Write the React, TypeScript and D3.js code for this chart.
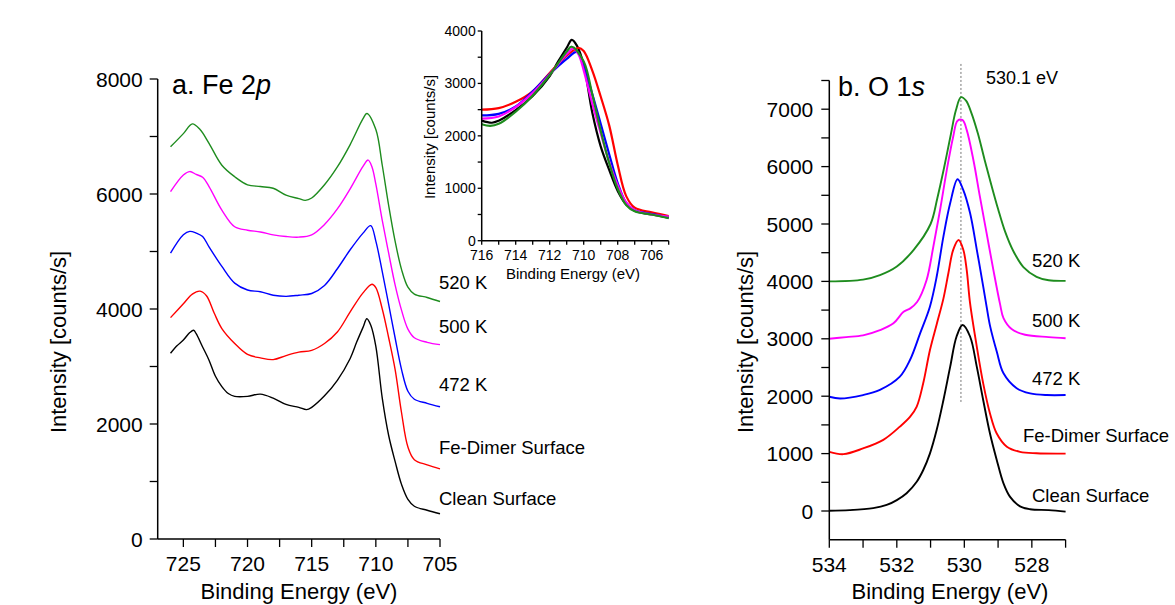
import React from 'react';
import * as d3 from 'd3';

type Pt = [number, number];

// ---------- Fe 2p spectra (counts/s, before vertical offset) ----------
const FE_CLEAN: Pt[] = [
  [726, 3230], [725.5, 3360], [725, 3460], [724.5, 3590], [724.2, 3630], [724, 3570],
  [723.5, 3340], [723, 3110], [722.5, 2830], [722, 2650], [721.5, 2530], [721, 2480],
  [720, 2480], [719, 2520], [718, 2450], [717, 2340], [716, 2290], [715.4, 2250],
  [715, 2290], [714, 2490], [713, 2760], [712, 3140], [711.5, 3420], [711, 3680],
  [710.7, 3830], [710.4, 3720], [710, 3350], [709.5, 2450], [709, 1800], [708.5, 1350],
  [708, 950], [707.5, 690], [707, 570], [706, 500], [705, 440],
];
const FE_DIMER: Pt[] = [
  [726, 3100], [725, 3340], [724.3, 3510], [723.7, 3560], [723.2, 3480], [722.6, 3180],
  [722, 2910], [721, 2650], [720, 2460], [719, 2400], [718, 2370], [717, 2440],
  [716, 2500], [715, 2530], [714, 2650], [713, 2850], [712, 3200], [711, 3530],
  [710.3, 3680], [710, 3620], [709.5, 3250], [709, 2750], [708.5, 2200], [708, 1450],
  [707.5, 850], [707, 630], [706, 540], [705, 470],
];
const FE_472K: Pt[] = [
  [726, 3120], [725, 3440], [724.5, 3500], [724, 3470], [723.5, 3410], [723, 3230],
  [722, 2890], [721, 2600], [720, 2480], [719, 2450], [718, 2390], [717, 2370],
  [716, 2390], [715, 2420], [714, 2560], [713, 2850], [712, 3180], [711, 3470],
  [710.4, 3600], [710, 3330], [709.5, 2800], [709, 2230], [708.5, 1650], [708, 1100],
  [707.5, 720], [707, 580], [706, 510], [705, 450],
];
const FE_500K: Pt[] = [
  [726, 3120], [725, 3410], [724.5, 3470], [724, 3420], [723.5, 3370], [723, 3210],
  [722, 2800], [721, 2510], [720, 2450], [719, 2420], [718, 2370], [717, 2340],
  [716, 2330], [715, 2370], [714, 2550], [713, 2820], [712, 3170], [711, 3560],
  [710.6, 3670], [710.3, 3550], [710, 3250], [709.5, 2620], [709, 2050], [708.5, 1500],
  [708, 1060], [707.5, 730], [707, 580], [706, 500], [705, 460],
];
const FE_520K: Pt[] = [
  [726, 3120], [725, 3350], [724.3, 3520], [723.7, 3420], [723, 3180], [722, 2800],
  [721, 2600], [720, 2460], [719, 2430], [718, 2400], [717, 2280], [716, 2220],
  [715.5, 2190], [715, 2230], [714, 2460], [713, 2770], [712, 3160], [711, 3610],
  [710.7, 3700], [710, 3420], [709.5, 2800], [709, 2100], [708.5, 1480], [708, 990],
  [707.5, 680], [707, 560], [706, 500], [705, 430],
];
// vertical offsets used to stack the Fe 2p spectra
const FE_OFFSETS = [0, 750, 1850, 2920, 3700];

// ---------- O 1s spectra (counts/s, stacked) ----------
const O_CLEAN: Pt[] = [
  [534, 5], [533.4, 15], [532.7, 50], [532.3, 105], [532, 190], [531.71, 310],
  [531.41, 510], [531.22, 710], [531.02, 1000], [530.82, 1410], [530.62, 1930],
  [530.42, 2510], [530.23, 3040], [530.05, 3240], [529.83, 3040], [529.63, 2510],
  [529.44, 1930], [529.24, 1350], [529.04, 890], [528.84, 480], [528.65, 250],
  [528.35, 80], [528.05, 30], [527.5, 15], [527, -10],
];
const O_DIMER: Pt[] = [
  [534, 1030], [533.58, 990], [533, 1090], [532.4, 1240], [531.91, 1470], [531.61, 1640],
  [531.41, 1820], [531.22, 2220], [531.02, 2800], [530.82, 3250], [530.62, 3700],
  [530.47, 4150], [530.33, 4550], [530.17, 4720], [530.03, 4550], [529.93, 4200],
  [529.83, 3620], [529.63, 2860], [529.44, 2220], [529.24, 1700], [529.04, 1350],
  [528.74, 1120], [528.35, 1030], [527.86, 1005], [527, 1000],
];
const O_472K: Pt[] = [
  [534, 1990], [533.68, 1960], [533, 2020], [532.5, 2110], [531.91, 2340], [531.61, 2630],
  [531.31, 3095], [531.02, 3560], [530.82, 4080], [530.62, 4780], [530.42, 5360],
  [530.2, 5780], [530.03, 5590], [529.83, 5190], [529.63, 4550], [529.44, 3910],
  [529.34, 3560], [529.24, 3230], [529.04, 2780], [528.84, 2400], [528.45, 2140],
  [528.05, 2050], [527.56, 2020], [527, 2020],
];
const O_500K: Pt[] = [
  [534, 3000], [533.5, 3030], [533, 3060], [532.5, 3150], [532.1, 3270], [531.8, 3470],
  [531.6, 3530], [531.4, 3640], [531.12, 4020], [530.92, 4600], [530.72, 5240],
  [530.52, 5940], [530.33, 6520], [530.2, 6800], [530.05, 6810], [529.93, 6640],
  [529.73, 6110], [529.54, 5480], [529.34, 4840], [529.14, 4200], [528.94, 3600],
  [528.84, 3360], [528.6, 3170], [528.2, 3070], [527.5, 3030], [527, 3010],
];
const O_520K: Pt[] = [
  [534, 4000], [533, 4030], [532.5, 4110], [532, 4260], [531.5, 4550], [531, 5000],
  [530.8, 5450], [530.6, 5980], [530.4, 6560], [530.25, 6980], [530.1, 7210],
  [529.95, 7150], [529.8, 6950], [529.6, 6580], [529.4, 6120], [529.2, 5680],
  [529, 5260], [528.8, 4880], [528.55, 4530], [528.25, 4250], [527.86, 4080],
  [527.5, 4020], [527, 4010],
];
const O_PEAK_EV = 530.1;
const O_PEAK_LINE_RANGE = [1900, 7800];

const SERIES_LABELS = ['Clean Surface', 'Fe-Dimer Surface', '472 K', '500 K', '520 K'];
const SERIES_COLORS = ['#000000', '#ff0000', '#0000ff', '#ff00ff', '#1e8c1e'];

// ---------- axis ticks ----------
const FE_X_TICKS = [725, 720, 715, 710, 705];
const FE_X_MINOR = [722.5, 717.5, 712.5, 707.5];
const FE_Y_TICKS = [0, 2000, 4000, 6000, 8000];
const FE_Y_MINOR = [1000, 3000, 5000, 7000];
const INSET_X_TICKS = [716, 714, 712, 710, 708, 706];
const INSET_X_MINOR = [715, 713, 711, 709, 707, 705];
const INSET_Y_TICKS = [0, 1000, 2000, 3000, 4000];
const INSET_Y_MINOR = [500, 1500, 2500, 3500];
const O_X_TICKS = [534, 532, 530, 528];
const O_X_MINOR = [533, 531, 529, 527];
const O_Y_TICKS = [0, 1000, 2000, 3000, 4000, 5000, 6000, 7000];
const O_Y_MINOR = [500, 1500, 2500, 3500, 4500, 5500, 6500, 7500];

const FONT = "'Liberation Sans', Arial, Helvetica, sans-serif";

type Scale = d3.ScaleLinear<number, number>;

function XAxis({ x, y0, ticks, minor, len, mlen, size, gap }: {
  x: Scale; y0: number; ticks: number[]; minor: number[]; len: number; mlen: number; size: number; gap: number;
}) {
  const [r0, r1] = x.range();
  return (
    <g>
      <line x1={r0} x2={r1} y1={y0} y2={y0} stroke="#000" strokeWidth={1.5} />
      {ticks.map((t) => (
        <g key={'M' + t}>
          <line x1={x(t)} x2={x(t)} y1={y0} y2={y0 + len} stroke="#000" strokeWidth={1.3} />
          <text x={x(t)} y={y0 + len + gap} fontSize={size} textAnchor="middle" dominantBaseline="hanging">{t}</text>
        </g>
      ))}
      {minor.map((t) => (
        <line key={'m' + t} x1={x(t)} x2={x(t)} y1={y0} y2={y0 + mlen} stroke="#000" strokeWidth={1.3} />
      ))}
    </g>
  );
}

function YAxis({ y, x0, ticks, minor, len, mlen, size, gap }: {
  y: Scale; x0: number; ticks: number[]; minor: number[]; len: number; mlen: number; size: number; gap: number;
}) {
  const [r0, r1] = y.range();
  return (
    <g>
      <line x1={x0} x2={x0} y1={r0} y2={r1} stroke="#000" strokeWidth={1.5} />
      {ticks.map((t) => (
        <g key={'M' + t}>
          <line x1={x0 - len} x2={x0} y1={y(t)} y2={y(t)} stroke="#000" strokeWidth={1.3} />
          <text x={x0 - len - gap} y={y(t)} fontSize={size} textAnchor="end" dominantBaseline="central">{t}</text>
        </g>
      ))}
      {minor.map((t) => (
        <line key={'m' + t} x1={x0 - mlen} x2={x0} y1={y(t)} y2={y(t)} stroke="#000" strokeWidth={1.3} />
      ))}
    </g>
  );
}

export default function App() {
  const feSeries = [FE_CLEAN, FE_DIMER, FE_472K, FE_500K, FE_520K];
  const oSeries = [O_CLEAN, O_DIMER, O_472K, O_500K, O_520K];

  // Panel a: Fe 2p
  const xA = d3.scaleLinear().domain([727, 705]).range([157.7, 440]);
  const yA = d3.scaleLinear().domain([0, 8000]).range([539, 79]);
  // Inset: overlaid Fe 2p (no offsets)
  const xI = d3.scaleLinear().domain([716, 705]).range([481.7, 668.7]);
  const yI = d3.scaleLinear().domain([0, 4000]).range([240.7, 31]);
  // Panel b: O 1s
  const xB = d3.scaleLinear().domain([534, 527]).range([829.3, 1065.6]);
  const yB = d3.scaleLinear().domain([-500, 7500]).range([539.7, 80.5]);

  const smooth = d3.curveCatmullRom.alpha(0.5);
  const lineA = (off: number) =>
    d3.line<Pt>().x((d) => xA(d[0])).y((d) => yA(d[1] + off)).curve(smooth);
  const lineI = d3.line<Pt>().x((d) => xI(d[0])).y((d) => yI(d[1])).curve(smooth);
  const lineB = d3.line<Pt>().x((d) => xB(d[0])).y((d) => yB(d[1])).curve(smooth);

  // label anchors (text baselines) for each series, ordered as SERIES_LABELS
  const feLabelPos = [[439, 505], [439, 454], [439, 391], [439, 333], [439, 289]];
  const oLabelPos = [[1032, 502], [1023, 442], [1032, 385], [1032, 327], [1032, 267]];

  return (
    <svg
      width={1175}
      height={605}
      style={{ position: 'absolute', left: 0, top: 0, background: '#fff' }}
      fontFamily={FONT}
      fill="#000"
    >
      <rect width={1175} height={605} fill="#fff" />

      {/* ---- panel a ---- */}
      <g>
        {feSeries.map((s, i) => (
          <path key={i} d={lineA(FE_OFFSETS[i])(s) || ''} fill="none" stroke={SERIES_COLORS[i]} strokeWidth={1.4} />
        ))}
        <XAxis x={xA} y0={539} ticks={FE_X_TICKS} minor={FE_X_MINOR} len={8} mlen={8} size={21} gap={9} />
        <YAxis y={yA} x0={157.7} ticks={FE_Y_TICKS} minor={FE_Y_MINOR} len={8} mlen={8} size={21} gap={7} />
        <text x={172} y={94} fontSize={27}>
          a. Fe 2<tspan fontStyle="italic">p</tspan>
        </text>
        <text x={299} y={599} fontSize={22} textAnchor="middle">Binding Energy (eV)</text>
        <text transform="translate(66,342) rotate(-90)" fontSize={22} textAnchor="middle">Intensity [counts/s]</text>
        {SERIES_LABELS.map((l, i) => (
          <text key={l} x={feLabelPos[i][0]} y={feLabelPos[i][1]} fontSize={18.5}>{l}</text>
        ))}
      </g>

      {/* ---- inset ---- */}
      <g>
        {feSeries.map((s, i) => (
          <path key={i} d={lineI(s.filter((d) => d[0] <= 716)) || ''} fill="none" stroke={SERIES_COLORS[i]} strokeWidth={2.2} />
        ))}
        <XAxis x={xI} y0={240.7} ticks={INSET_X_TICKS} minor={INSET_X_MINOR} len={4} mlen={4} size={14} gap={5} />
        <YAxis y={yI} x0={481.7} ticks={INSET_Y_TICKS} minor={INSET_Y_MINOR} len={4} mlen={4} size={14} gap={2} />
        <text x={573} y={279} fontSize={15} textAnchor="middle">Binding Energy (eV)</text>
        <text transform="translate(435,137) rotate(-90)" fontSize={15} textAnchor="middle">Intensity [counts/s]</text>
      </g>

      {/* ---- panel b ---- */}
      <g>
        <line
          x1={xB(O_PEAK_EV)} x2={xB(O_PEAK_EV)}
          y1={yB(O_PEAK_LINE_RANGE[0])} y2={yB(O_PEAK_LINE_RANGE[1])}
          stroke="#777" strokeWidth={1} strokeDasharray="2,2"
        />
        {oSeries.map((s, i) => (
          <path key={i} d={lineB(s) || ''} fill="none" stroke={SERIES_COLORS[i]} strokeWidth={1.9} />
        ))}
        <XAxis x={xB} y0={539.7} ticks={O_X_TICKS} minor={O_X_MINOR} len={8} mlen={8} size={21} gap={9} />
        <YAxis y={yB} x0={829.3} ticks={O_Y_TICKS} minor={O_Y_MINOR} len={8} mlen={8} size={21} gap={8} />
        <text x={838} y={96} fontSize={27}>
          b. O 1<tspan fontStyle="italic">s</tspan>
        </text>
        <text x={986} y={84} fontSize={18}>{O_PEAK_EV} eV</text>
        <text x={950} y={599} fontSize={22} textAnchor="middle">Binding Energy (eV)</text>
        <text transform="translate(753,342) rotate(-90)" fontSize={22} textAnchor="middle">Intensity [counts/s]</text>
        {SERIES_LABELS.map((l, i) => (
          <text key={l} x={oLabelPos[i][0]} y={oLabelPos[i][1]} fontSize={18.5}>{l}</text>
        ))}
      </g>
    </svg>
  );
}
